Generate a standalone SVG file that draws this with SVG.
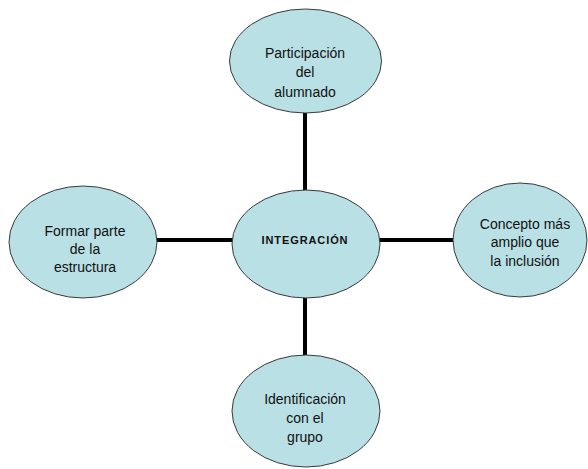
<svg xmlns="http://www.w3.org/2000/svg" width="588" height="469" viewBox="0 0 588 469">
  <style>
    .node { fill: #b9e0e4; stroke: #3a3a3a; stroke-width: 1; }
    .lbl { font-family: "Liberation Sans", Arial, sans-serif; font-size: 14px; fill: #111; text-anchor: middle; }
    .core { font-family: "Liberation Sans", Arial, sans-serif; font-size: 11px; font-weight: bold; fill: #111; text-anchor: middle; letter-spacing: 0.9px; }
    .link { stroke: #000; stroke-width: 4; fill: none; }
  </style>
  <rect width="588" height="469" fill="#fff"/>
  <g id="connectors">
    <line class="link" x1="305" y1="112" x2="305" y2="192"/>
    <line class="link" x1="156" y1="240" x2="234" y2="240"/>
    <line class="link" x1="378" y1="240" x2="455" y2="240"/>
    <line class="link" x1="305" y1="296" x2="305" y2="357"/>
  </g>
  <g id="participacion">
    <ellipse class="node" cx="305.5" cy="61" rx="76" ry="52"/>
    <text class="lbl" x="305" y="58">Participación</text>
    <text class="lbl" x="305" y="77">del</text>
    <text class="lbl" x="305" y="97">alumnado</text>
  </g>
  <g id="integracion">
    <ellipse class="node" cx="306" cy="244" rx="74" ry="54"/>
    <text class="core" x="305" y="244">INTEGRACIÓN</text>
  </g>
  <g id="formar">
    <ellipse class="node" cx="83" cy="242" rx="74" ry="56"/>
    <text class="lbl" x="85" y="236">Formar parte</text>
    <text class="lbl" x="85" y="254">de la</text>
    <text class="lbl" x="85" y="272">estructura</text>
  </g>
  <g id="concepto">
    <ellipse class="node" cx="520" cy="240" rx="67" ry="57"/>
    <text class="lbl" x="525" y="229">Concepto más</text>
    <text class="lbl" x="525" y="247">amplio que</text>
    <text class="lbl" x="525" y="266">la inclusión</text>
  </g>
  <g id="identificacion">
    <ellipse class="node" cx="306" cy="411" rx="74" ry="56"/>
    <text class="lbl" x="305" y="404">Identificación</text>
    <text class="lbl" x="305" y="423">con el</text>
    <text class="lbl" x="305" y="442">grupo</text>
  </g>
</svg>
